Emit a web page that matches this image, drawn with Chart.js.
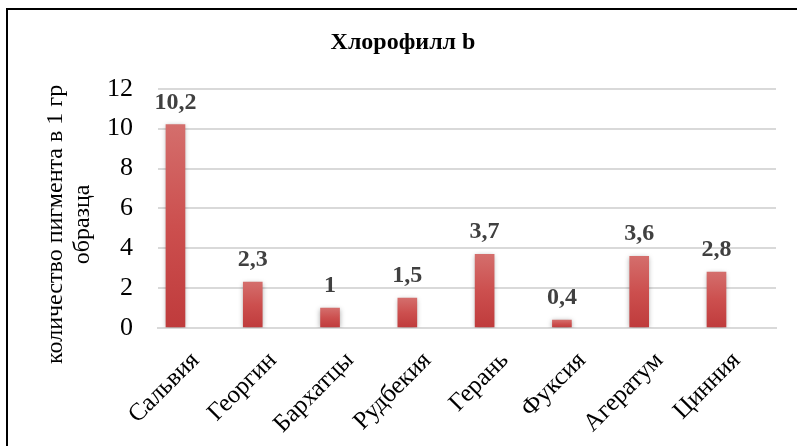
<!DOCTYPE html>
<html>
<head>
<meta charset="utf-8">
<script src="https://cdn.jsdelivr.net/npm/chart.js@4.4.1/dist/chart.umd.min.js"></script>
<style>
  html, body { margin: 0; padding: 0; background: #fff; overflow: hidden; }
  #frame { position: absolute; left: 6px; top: 8px; width: 900px; height: 600px; border: 2px solid #000; box-sizing: border-box; }
  #wrap { position: absolute; left: 0; top: 0; width: 797px; height: 446px; }
</style>
</head>
<body>
<div id="frame"></div>
<div id="wrap"><canvas id="c" width="797" height="446"></canvas></div>
<script>
// Chlorophyll b content per flower species
const categories = ['Сальвия', 'Георгин', 'Бархатцы', 'Рудбекия', 'Герань', 'Фуксия', 'Агератум', 'Цинния'];
const values = [10.2, 2.3, 1, 1.5, 3.7, 0.4, 3.6, 2.8];
const yTicks = [0, 2, 4, 6, 8, 10, 12];
const chartTitle = 'Хлорофилл b';
const yTitle = ['количество пигмента в 1 гр', 'образца'];

const SERIF = '"Liberation Serif", "Times New Roman", serif';

// Value labels above each bar, decimal comma
const valueLabelPlugin = {
  id: 'valueLabels',
  afterDatasetsDraw(chart) {
    const ctx = chart.ctx;
    const meta = chart.getDatasetMeta(0);
    ctx.save();
    ctx.font = 'bold 24px ' + SERIF;
    ctx.fillStyle = '#404040';
    ctx.textAlign = 'center';
    ctx.textBaseline = 'alphabetic';
    meta.data.forEach((bar, i) => {
      const txt = String(values[i]).replace('.', ',');
      ctx.fillText(txt, bar.x, bar.y - 16);
    });
    ctx.restore();
  }
};

// Vertical axis title, two rotated lines left of the tick labels
const yTitlePlugin = {
  id: 'yTitle',
  afterDraw(chart) {
    const ctx = chart.ctx;
    const area = chart.chartArea;
    const cy = (area.top + area.bottom) / 2 + 16;
    ctx.save();
    ctx.font = '24px ' + SERIF;
    ctx.fillStyle = '#000';
    ctx.textAlign = 'center';
    ctx.textBaseline = 'middle';
    yTitle.forEach((line, i) => {
      ctx.save();
      ctx.translate(56 + i * 27, cy);
      ctx.rotate(-Math.PI / 2);
      ctx.fillText(line, 0, 0);
      ctx.restore();
    });
    ctx.restore();
  }
};

// Soft drop shadow behind the bars
const barShadowPlugin = {
  id: 'barShadow',
  beforeDatasetsDraw(chart) {
    const ctx = chart.ctx;
    ctx.save();
    ctx.shadowColor = 'rgba(0,0,0,0.35)';
    ctx.shadowBlur = 5;
    ctx.shadowOffsetX = 0;
    ctx.shadowOffsetY = 1;
  },
  afterDatasetsDraw(chart) {
    chart.ctx.restore();
  }
};

function barGradient(context) {
  const chart = context.chart;
  const yScale = chart.scales.y;
  if (!yScale || context.parsed === undefined) return '#c94a4a';
  const top = yScale.getPixelForValue(context.parsed.y);
  const bottom = yScale.getPixelForValue(0);
  if (!isFinite(top) || !isFinite(bottom) || top === bottom) return '#c94a4a';
  const g = chart.ctx.createLinearGradient(0, top, 0, bottom);
  g.addColorStop(0, '#d46e6c');
  g.addColorStop(0.5, '#cc4f4e');
  g.addColorStop(1, '#bf3b3c');
  return g;
}

new Chart(document.getElementById('c'), {
  type: 'bar',
  data: {
    datasets: [{
      data: values.map((v, i) => ({ x: i, y: v })),
      backgroundColor: barGradient,
      borderWidth: 0,
      barThickness: 19
    }]
  },
  plugins: [barShadowPlugin, valueLabelPlugin, yTitlePlugin],
  options: {
    responsive: false,
    devicePixelRatio: 1,
    animation: false,
    layout: { padding: { left: 30, right: 21, top: 0, bottom: 0 } },
    plugins: {
      legend: { display: false },
      tooltip: { enabled: false },
      title: {
        display: true,
        text: chartTitle,
        color: '#000',
        font: { family: SERIF, size: 24, weight: 'bold' },
        padding: { top: 28, bottom: 32 }
      }
    },
    scales: {
      x: {
        type: 'linear',
        offset: false,
        min: -0.226,
        max: 7.77,
        afterBuildTicks(scale) { scale.ticks = categories.map((_, i) => ({ value: i })); },
        grid: { display: false, drawTicks: false },
        border: { display: true, color: '#d9d9d9', width: 2 },
        ticks: {
          color: '#000',
          font: { family: SERIF, size: 25 },
          minRotation: 45,
          maxRotation: 45,
          autoSkip: false,
          padding: 18,
          labelOffset: 20,
          callback: (value) => categories[value]
        },
        afterFit(scale) { scale.height = 118; }
      },
      y: {
        min: 0,
        max: 12,
        afterBuildTicks(scale) { scale.ticks = yTicks.map(v => ({ value: v })); },
        grid: { color: '#d9d9d9', lineWidth: 2, drawTicks: false },
        border: { display: false },
        ticks: {
          color: '#000',
          font: { family: SERIF, size: 26 },
          padding: 25
        },
        afterFit(scale) { scale.width = 128; }
      }
    }
  }
});
</script>
</body>
</html>
